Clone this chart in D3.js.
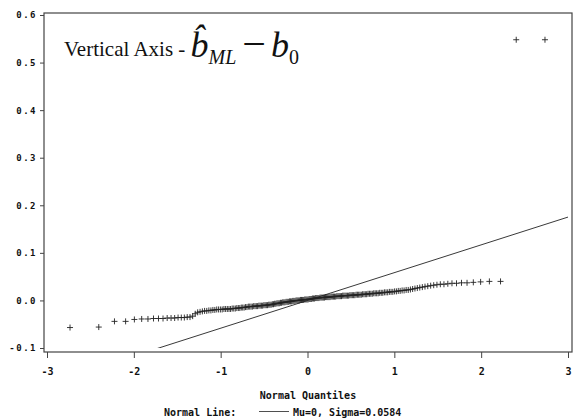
<!DOCTYPE html>
<html>
<head>
<meta charset="utf-8">
<script src="https://cdn.jsdelivr.net/npm/d3@7"></script>
<style>
  body { margin: 0; background: #fff; }
  .sas { font-family: "DejaVu Sans Mono", monospace; font-size: 10px; font-weight: bold; fill: #111; }
</style>
</head>
<body>
<div id="qq"></div>
<script>
// sorted sample (b_ML - b0), n = 200
var sample = [
  -0.057, -0.056, -0.044, -0.044, -0.040, -0.039,
  -0.039, -0.038, -0.038, -0.038, -0.037, -0.037, -0.037, -0.036, -0.036, -0.036, -0.035, -0.035,
  -0.033, -0.028, -0.025, -0.024, -0.023,
  -0.022, -0.022, -0.021, -0.021, -0.020, -0.020, -0.019,
  -0.019, -0.019, -0.019, -0.018, -0.018, -0.018, -0.018, -0.018, -0.017, -0.017,
  -0.017, -0.016, -0.016, -0.016, -0.015, -0.015, -0.015, -0.014, -0.014, -0.013, -0.013,
  -0.013, -0.013, -0.012, -0.012, -0.012, -0.012, -0.011, -0.011, -0.011, -0.011, -0.010, -0.010, -0.010,
  -0.010, -0.009, -0.009, -0.009, -0.008, -0.008, -0.007, -0.007, -0.006, -0.006, -0.006, -0.005, -0.005, -0.004,
  -0.004, -0.004, -0.003, -0.003, -0.003, -0.002, -0.002, -0.002, -0.001, -0.001, -0.001, 0.000, 0.000, 0.000, 0.000, 0.001,
  0.001, 0.001, 0.001, 0.002, 0.002, 0.002, 0.002, 0.003, 0.003, 0.003, 0.004, 0.004, 0.004, 0.005, 0.005, 0.005, 0.005, 0.006,
  0.006, 0.006, 0.006, 0.006, 0.007, 0.007, 0.007, 0.007, 0.007, 0.008, 0.008, 0.008, 0.008, 0.008,
  0.009, 0.009, 0.009, 0.009, 0.009, 0.010, 0.010, 0.010, 0.010, 0.010, 0.010, 0.011,
  0.011, 0.011, 0.011, 0.011, 0.012, 0.012, 0.012, 0.012, 0.012, 0.013, 0.013, 0.013,
  0.013, 0.014, 0.014, 0.014, 0.014, 0.015, 0.015, 0.015, 0.015, 0.016, 0.016, 0.016,
  0.017, 0.017, 0.017, 0.018, 0.018, 0.018, 0.019, 0.019, 0.020, 0.020, 0.021, 0.021, 0.022, 0.022, 0.023,
  0.024, 0.025, 0.026, 0.027, 0.028, 0.029, 0.030, 0.031, 0.032,
  0.033, 0.034, 0.034, 0.035, 0.036,
  0.036, 0.037, 0.037, 0.038,
  0.039, 0.040, 0.040,
  0.548, 0.548
];
var xTicks = [-3, -2, -1, 0, 1, 2, 3];
var yTicks = [-0.1, 0.0, 0.1, 0.2, 0.3, 0.4, 0.5, 0.6];
var mu = 0, sigma = 0.0584;

var width = 574, height = 418;
var frame = { left: 44, right: 572, top: 13, bottom: 352 };

// inverse standard normal (Acklam), for the Blom plotting positions
function qnorm(p) {
  var a = [-39.69683028665376, 220.9460984245205, -275.9285104469687, 138.3577518672690, -30.66479806614716, 2.506628277459239],
      b = [-54.47609879822406, 161.5858368580409, -155.6989798598866, 66.80131188771972, -13.28068155288572],
      c = [-0.007784894002430293, -0.3223964580411365, -2.400758277161838, -2.549732539343734, 4.374664141464968, 2.938163982698783],
      d = [0.007784695709041462, 0.3224671290700398, 2.445134137142996, 3.754408661907416];
  var q, r;
  if (p < 0.02425) {
    q = Math.sqrt(-2 * Math.log(p));
    return (((((c[0]*q+c[1])*q+c[2])*q+c[3])*q+c[4])*q+c[5]) / ((((d[0]*q+d[1])*q+d[2])*q+d[3])*q+1);
  }
  if (p > 1 - 0.02425) {
    q = Math.sqrt(-2 * Math.log(1 - p));
    return -(((((c[0]*q+c[1])*q+c[2])*q+c[3])*q+c[4])*q+c[5]) / ((((d[0]*q+d[1])*q+d[2])*q+d[3])*q+1);
  }
  q = p - 0.5; r = q * q;
  return (((((a[0]*r+a[1])*r+a[2])*r+a[3])*r+a[4])*r+a[5])*q / (((((b[0]*r+b[1])*r+b[2])*r+b[3])*r+b[4])*r+1);
}

var n = sample.length;
var points = sample.map(function(v, i) {
  return { q: qnorm((i + 1 - 0.375) / (n + 0.25)), v: v };
});

var svg = d3.select('div#qq')
            .append('svg')
            .attr('width', width)
            .attr('height', height);

var xScale = d3.scaleLinear().domain([-3, 3]).range([47, 568]);
var yScale = d3.scaleLinear().domain([-0.1, 0.6]).range([348, 15]);

// the reference line is only drawn inside the data range
svg.append('clipPath').attr('id', 'plot')
   .append('rect')
   .attr('x', frame.left).attr('y', yScale(0.6))
   .attr('width', frame.right - frame.left).attr('height', yScale(-0.1) - yScale(0.6));

svg.append('line')
   .attr('clip-path', 'url(#plot)')
   .attr('x1', xScale(-3)).attr('y1', yScale(mu + sigma * -3))
   .attr('x2', xScale(3)).attr('y2', yScale(mu + sigma * 3))
   .attr('stroke', '#222')
   .attr('stroke-width', 0.9);

// plus markers
svg.append('g')
   .selectAll('path')
   .data(points)
   .enter()
   .append('path')
   .attr('d', function(d) {
     var x = xScale(d.q), y = yScale(d.v);
     return 'M' + (x - 3) + ',' + y + 'H' + (x + 3) + 'M' + x + ',' + (y - 3) + 'V' + (y + 3);
   })
   .attr('stroke', '#222')
   .attr('stroke-width', 0.9)
   .attr('fill', 'none');

svg.append('rect')
   .attr('x', frame.left).attr('y', frame.top)
   .attr('width', frame.right - frame.left).attr('height', frame.bottom - frame.top)
   .attr('fill', 'none')
   .attr('stroke', '#444')
   .attr('stroke-width', 1.2);

var yAxis = d3.axisLeft(yScale)
              .tickValues(yTicks)
              .tickSize(4)
              .tickPadding(3)
              .tickFormat(function(d) { return d.toFixed(1); });
var gy = svg.append('g')
   .attr('transform', 'translate(' + frame.left + ',0)')
   .call(yAxis);
gy.select('.domain').remove();
gy.selectAll('text').attr('class', 'sas').attr('font-family', null).attr('font-size', null)
  .style('font-size', '9px').style('letter-spacing', '1.5px');
gy.selectAll('line').attr('stroke', '#444');

var xAxis = d3.axisBottom(xScale)
              .tickValues(xTicks)
              .tickSize(6)
              .tickPadding(10)
              .tickFormat(function(d) { return String(d); });
var gx = svg.append('g')
   .attr('transform', 'translate(0,' + frame.bottom + ')')
   .call(xAxis);
gx.select('.domain').remove();
gx.selectAll('text').attr('class', 'sas').attr('font-family', null).attr('font-size', null);
gx.selectAll('line').attr('stroke', '#444');

svg.append('text')
   .attr('class', 'sas')
   .attr('x', (frame.left + frame.right) / 2)
   .attr('y', 399)
   .attr('text-anchor', 'middle')
   .text('Normal Quantiles');

// legend
svg.append('text').attr('class', 'sas').attr('x', 164).attr('y', 416).text('Normal Line:');
svg.append('line')
   .attr('x1', 259).attr('x2', 289).attr('y1', 411.5).attr('y2', 411.5)
   .attr('stroke', '#222').attr('stroke-width', 0.8);
svg.append('text').attr('class', 'sas').attr('x', 293).attr('y', 416)
   .text('Mu=' + mu + ', Sigma=' + sigma);

// annotation
var note = svg.append('text')
   .attr('x', 64).attr('y', 56)
   .style('font-family', '"Liberation Serif", "Times New Roman", serif')
   .style('font-size', '21px')
   .attr('fill', '#111');
note.append('tspan').text('Vertical Axis - ');
note.append('tspan').style('font-style', 'italic').style('font-size', '36px').attr('dy', 1).text('b\u0302');
note.append('tspan').style('font-style', 'italic').style('font-size', '20px').attr('dy', 7).text('ML');
note.append('tspan').style('font-size', '42px').attr('dy', -6).attr('dx', 6).text('\u2212');
note.append('tspan').style('font-style', 'italic').style('font-size', '36px').attr('dx', 5).attr('dy', -1).text('b');
note.append('tspan').style('font-size', '20px').attr('dy', 7).text('0');
</script>
</body>
</html>
